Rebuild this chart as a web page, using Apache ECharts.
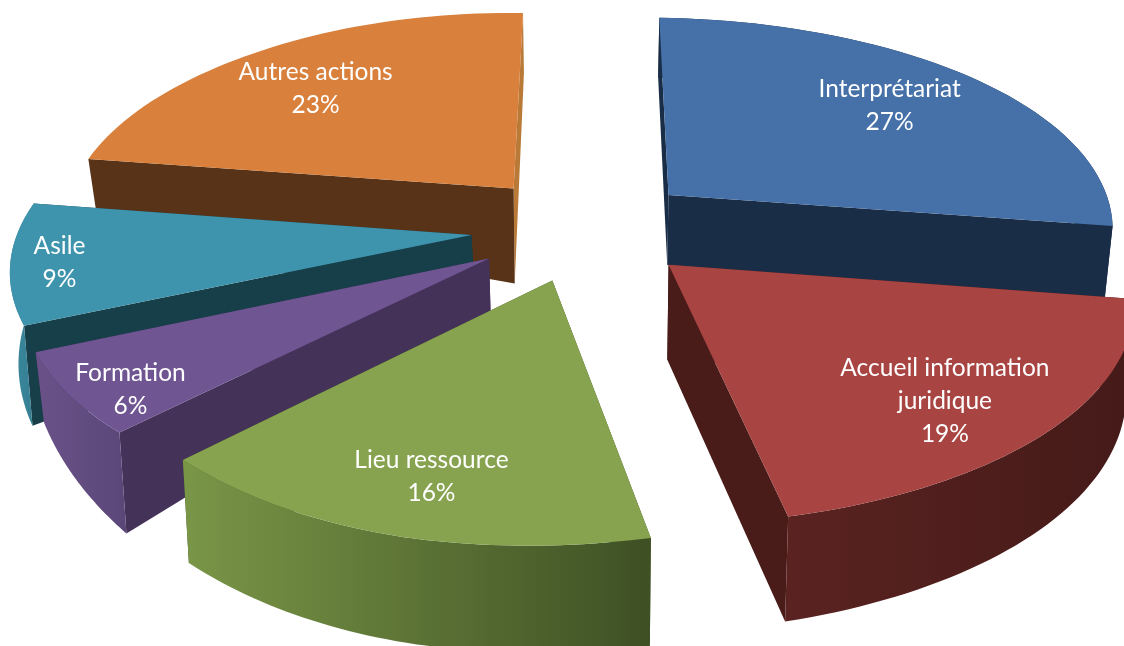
<!DOCTYPE html>
<html style="height: 100%">
<head>
  <meta charset="utf-8">
  <script src="https://cdn.jsdelivr.net/npm/echarts@6/dist/echarts.min.js"></script>
</head>
<body style="height: 100%; margin: 0; background: #fff">
<div id="main" style="width: 1124px; height: 646px"></div>
<script>
  // chart data
  var categories = ['Interprétariat', 'Accueil information\njuridique', 'Lieu ressource', 'Formation', 'Asile', 'Autres actions'];
  var shares = [27, 19, 16, 6, 9, 23];

  // look of each slice, same order as categories
  var topColors = ['#4570a8', '#a84442', '#87a34f', '#705593', '#3f94ad', '#d9803c'];
  var cutColors = ['#1a2d47', '#491b19', '#3e5024', '#443259', '#173f4a', '#583317'];
  var rimLeft = ['#1a2d47', '#5a2321', '#7a9647', '#6a5289', '#3a8aa0', '#b97a38'];
  var rimRight = ['#1a2d47', '#441a18', '#3e5024', '#5a4778', '#33798c', '#b97a38'];
  // side height at the apex, at the slice start, at the slice end
  var depths = [[70, 60, 73], [95, 90, 105], [105, 108, 103], [52, 101, 70], [30, 100, 80], [95, 50, 60]];
  // label position inside the slice, as a part of the radius (across, along the view)
  var labelFrac = [[0.72, 0.735], [0.74, 0.83], [0.76, 0.8], [0.852, 0.97], [0.892, 0.99], [0.77, 0.7]];
  var drawOrder = [5, 0, 4, 3, 1, 2];

  // fake 3D projection of the pie plane
  var cx = 584.5, cy = 228, radiusX = 448, radiusY = 211, persp = 0.142;
  var explode = 0.25, rotation = 1.5, converge = 0.015;
  var bowFar = 5, bowNear = 8, leftPull = 6;

  var total = shares.reduce(function (a, b) { return a + b; }, 0);

  function project(gx, gy) {
    var s = 1 / (1 - persp * gy);
    var bow = gy > 0 ? bowNear * Math.max(0, Math.min(1, (gx + 0.9) / 0.6)) : bowFar;
    var x = cx + radiusX * gx * s - bow * Math.pow(gy, 4);
    if (gx < 0) x -= leftPull * Math.min(1, -gx) * Math.max(0, 1 - gy * gy);
    return [x, cy + radiusY * gy * s];
  }

  function dropped(p, h) {
    return [p[0] - (p[0] - cx) * converge, p[1] + h];
  }

  function renderItem(params, api) {
    var i = api.value(0);
    var before = 0;
    for (var k = 0; k < i; k++) before += shares[k];
    var a0 = rotation + before / total * 360;
    var a1 = a0 + shares[i] / total * 360;
    var mid = (a0 + a1) / 2 * Math.PI / 180;
    var ox = explode * Math.sin(mid), oy = -explode * Math.cos(mid);

    var topArc = [], lowArc = [];
    var steps = 48;
    for (var n = 0; n <= steps; n++) {
      var t = n / steps;
      var a = (a0 + (a1 - a0) * t) * Math.PI / 180;
      var p = project(ox + Math.sin(a), oy - Math.cos(a));
      topArc.push(p);
      lowArc.push(dropped(p, depths[i][1] + (depths[i][2] - depths[i][1]) * t));
    }
    var apex = project(ox, oy);
    var apexLow = dropped(apex, depths[i][0]);
    var first = topArc[0], last = topArc[steps];

    var rimFill = new echarts.graphic.LinearGradient(0, 0, 1, 0, [
      {offset: 0, color: rimLeft[i]},
      {offset: 1, color: rimRight[i]}
    ]);

    var lp = project(ox + labelFrac[i][0] * Math.sin(mid), oy - labelFrac[i][1] * Math.cos(mid));

    function poly(points, fill) {
      return {type: 'polygon', shape: {points: points}, style: {fill: fill}};
    }

    var faces = [
      poly([last, apex, apexLow, lowArc[steps]], i === 5 ? rimLeft[5] : cutColors[i]),
      poly([first, apex, apexLow, lowArc[0]], cutColors[i])
    ];
    // the far side of Autres actions never shows
    if (i !== 5) faces.push(poly(topArc.concat(lowArc.slice().reverse()), rimFill));
    faces.push(poly([apex].concat(topArc), topColors[i]));
    faces.push({
      type: 'text',
      style: {
        x: lp[0],
        y: lp[1],
        text: categories[i] + '\n' + shares[i] + '%',
        fill: '#fff',
        font: '24.5px Lato',
        lineHeight: 33,
        align: 'center',
        verticalAlign: 'middle'
      }
    });

    return {type: 'group', children: faces};
  }

  var myChart = echarts.init(document.getElementById('main'));
  myChart.setOption({
    animation: false,
    series: [{
      type: 'custom',
      coordinateSystem: 'none',
      renderItem: renderItem,
      data: drawOrder.map(function (i) { return [i]; })
    }]
  });
</script>
</body>
</html>
